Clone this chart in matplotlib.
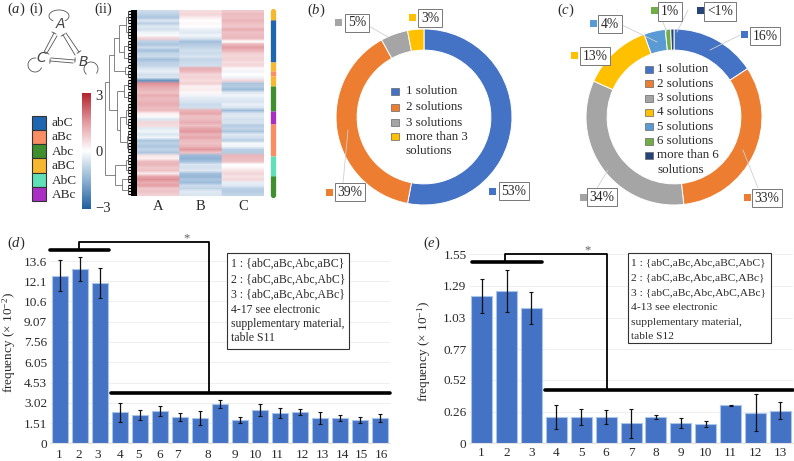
import numpy as np
import matplotlib
matplotlib.use('Agg')
import matplotlib.pyplot as plt
from matplotlib.colors import LinearSegmentedColormap
from matplotlib.patches import Arc, Rectangle

plt.rcParams['font.family'] = ['Liberation Serif', 'DejaVu Serif']
plt.rcParams['mathtext.fontset'] = 'custom'
plt.rcParams['mathtext.rm'] = 'Liberation Serif'
plt.rcParams['mathtext.it'] = 'Liberation Serif:italic'

W, H = 794, 461
TXT = '#2a2a2a'

# heatmap rows, read top to bottom
heat_a = [-0.7, -0.9, -1.1, -0.5, -0.9, -0.4, -0.6, -0.2, -0.1, 0.7,
          -0.9, -1.1, -0.7, -1.2, -0.8, -0.7, -1.2, -0.9, -0.8, -0.5,
          -0.3, -0.6, -0.5, -2.0, 1.6, 1.3, 1.1, 0.9, 1.2, 1.0,
          1.1, 1.2, 1.0, 1.0, 0.2, 0.1, -0.5, 0.6, 0.5, -0.4,
          -0.2, -0.5, -0.2, -1.1, -0.9, -1.1, -0.8, -1.1, 0.4, 0.2,
          1.0, 1.1, 0.8, 0.9, 0.3, 1.3, 1.6, 1.2, 1.4, 0.8,
          0.9, 0.7]
heat_b = [0.5, 0.6, 0.3, 0.0, 0.1, 0.0, -0.3, -0.4, -0.2, -0.5,
          -1.2, -1.0, -0.8, -0.6, -0.7, -0.5, -0.8, -0.7, -0.6, 1.2,
          1.0, 0.6, 0.7, 0.5, 0.7, 0.2, 0.3, 0.1, -0.2, -0.4,
          -0.5, -0.7, -0.6, 1.1, 1.3, 0.9, 1.0, 1.2, 0.9, 1.3,
          1.5, 1.1, 1.3, 1.0, 0.9, 1.1, 1.5, 0.9, -1.3, -1.5,
          -1.2, -0.5, -0.6, -0.4, -1.2, -1.4, -1.1, -1.3, -0.7, -0.8,
          -0.4, -0.5]
heat_c = [0.8, 1.0, 0.9, 1.1, 0.9, 0.8, 1.2, 0.9, 1.0, 1.0,
          0.0, 1.1, 1.4, 1.1, 0.7, 0.6, 0.7, 0.5, 0.6, 0.1,
          -0.2, 0.0, -0.2, 0.6, -1.1, -1.0, -1.3, -0.4, -0.2, -0.4,
          -0.5, -0.3, -0.5, -1.3, -0.5, -0.4, -0.6, -0.5, -1.0, -0.8,
          -1.1, -0.4, -0.6, -0.9, -0.1, -0.2, -0.9, -1.0, 1.1, 1.0,
          0.9, 0.0, 0.1, 0.4, 0.6, 0.4, 0.6, -0.3, -0.4, -0.9,
          -1.0, -0.8]
heat_labels = ['A', 'B', 'C']

# dendrogram: (merge height, upper, lower), an int is a tight cluster of rows
dendro_tree = (32,
               (28,
                (23, (18, (11, 5, 5), (13, 4, 4)), (12, 2, 3)),
                (20, (13, 4, 4), (17, (11, 5, 4), (10, 4, 4)))),
               (22, (11, 4, 3), (15, 3, 4)))

side_colors = ['#f5b82e', '#1f66b0', '#f5b82e', '#f98d63', '#f5b82e',
               '#3f8f2f', '#a92fc4', '#f98d63', '#5fe0b8', '#3f8f2f']
side_sizes = [37, 126, 27, 13, 30, 75, 40, 97, 60, 65]

type_names = ['abC', 'aBc', 'Abc', 'aBC', 'AbC', 'ABc']
type_colors = ['#1f66b0', '#f98d63', '#3f8f2f', '#f5b82e', '#5fe0b8', '#a92fc4']

# donuts
b_values = [53, 39, 5, 3]
b_colors = ['#4472c4', '#ed7d31', '#a5a5a5', '#ffc000']
b_names = ['1 solution', '2 solutions', '3 solutions', 'more than 3']
b_pct = ['53%', '39%', '5%', '3%']

c_values = [16, 33, 34, 13, 4, 1, 0.6]
c_colors = ['#4472c4', '#ed7d31', '#a5a5a5', '#ffc000', '#5b9bd5', '#70ad47', '#264478']
c_names = ['1 solution', '2 solutions', '3 solutions', '4 solutions', '5 solutions',
           '6 solutions', 'more than 6']
c_pct = ['16%', '33%', '34%', '13%', '4%', '1%', '<1%']

# bars of panel d
d_values = [12.5, 13.0, 11.94, 2.31, 2.1, 2.4, 1.96, 1.9, 2.9, 1.77, 2.5, 2.24, 2.34,
            1.9, 1.9, 1.74, 1.9]
d_err = [1.14, 0.91, 1.12, 0.7, 0.37, 0.37, 0.31, 0.53, 0.3, 0.22, 0.46, 0.37, 0.25,
         0.46, 0.24, 0.2, 0.31]
d_yticks = [0, 1.51, 3.02, 4.53, 6.05, 7.56, 9.07, 10.6, 12.1, 13.6]
d_xlabels = list(range(1, 17))
d_xlabel_pos = [0.97, 1.95, 2.88, 4.0, 4.92, 5.98, 6.88, 8.37, 9.72, 10.75, 11.87,
                13.13, 14.12, 15.1, 16.08, 17.05]
d_note = ['1 : {abC,aBc,Abc,aBC}', '2 : {abC,aBc,Abc,AbC}', '3 : {abC,aBc,Abc,ABc}',
          '4-17 see electronic', 'supplementary material,', 'table S11']

# bars of panel e
e_values = [1.206, 1.25, 1.105, 0.215, 0.215, 0.215, 0.164, 0.215, 0.164, 0.155, 0.311,
            0.25, 0.267]
e_err = [0.143, 0.173, 0.13, 0.10, 0.067, 0.055, 0.117, 0.014, 0.041, 0.025, 0.003,
         0.153, 0.068]
e_yticks = [0, 0.26, 0.52, 0.77, 1.03, 1.29, 1.55]
e_note = ['1 : {abC,aBc,Abc,aBC,AbC}', '2 : {abC,aBc,Abc,aBC,ABc}',
          '3 : {abC,aBc,Abc,AbC,ABc}', '4-13 see electronic',
          'supplementary material,', 'table S12']


def px_axes(fig, left, top, right, bottom, **kw):
    # axes placed by pixel edges, y counted from the top
    return fig.add_axes([left / W, 1 - bottom / H, (right - left) / W, (bottom - top) / H], **kw)


def draw_tree(ax, node, row):
    # returns (y centre, height, next free row)
    if isinstance(node, int):
        ys = np.arange(row, row + node) + 0.5
        ax.hlines(ys, 0, 9, color='black', lw=0.9)
        ax.vlines(9, ys[0], ys[-1], color='#333333', lw=0.6)
        return ys.mean(), 9, row + node
    h, up, low = node
    y0, h0, row = draw_tree(ax, up, row)
    y1, h1, row = draw_tree(ax, low, row)
    ax.hlines([y0, y1], [h0, h1], h, color='#555555', lw=0.5)
    ax.vlines(h, y0, y1, color='#555555', lw=0.5)
    return (y0 + y1) / 2, h, row


def donut(fig, cx, cy, r, values, colors):
    ax = px_axes(fig, cx - r, cy - r, cx + r, cy + r)
    ax.pie(values, colors=colors, startangle=90, counterclock=False, radius=1,
           wedgeprops=dict(width=0.24, edgecolor='white', linewidth=0.7))
    ax.set_xlim(-1, 1)
    ax.set_ylim(-1, 1)
    return ax


def bars(ax, values, err, yticks, ytop, pad):
    x = np.arange(1, len(values) + 1)
    ax.bar(x, values, width=0.84, color='#4472c4', edgecolor='#a9c6ea', linewidth=0.8, zorder=2)
    ax.errorbar(x, values, yerr=err, fmt='none', ecolor='#111111', elinewidth=0.9,
                capsize=1.6, capthick=0.8, zorder=3)
    ax.set_xlim(0.5, len(values) + 0.5)
    ax.set_ylim(0, ytop)
    ax.set_yticks(yticks)
    ax.set_yticklabels([f'{t:g}' for t in yticks], fontsize=9.5, color=TXT)
    ax.grid(axis='y', color='#ececec', lw=0.6, zorder=0)
    ax.tick_params(axis='y', length=0, pad=2)
    ax.tick_params(axis='x', length=0, pad=pad)
    for s in ['top', 'left', 'right']:
        ax.spines[s].set_visible(False)
    ax.spines['bottom'].set_color('#dddddd')
    ax.spines['bottom'].set_linewidth(0.6)


fig = plt.figure(figsize=(W / 100, H / 100), dpi=100)

# --- panel a ---
cmap = LinearSegmentedColormap.from_list('rdbu', ['#1f5f9e', '#8fb2d4', '#ffffff', '#e39aa0', '#b3232e'])

n_rows = len(heat_a)
ax_heat = px_axes(fig, 137, 10, 264, 196)
# columns repeated so the smoothing only blends along the rows
ax_heat.imshow(np.repeat(np.column_stack([heat_a, heat_b, heat_c]), 40, axis=1), aspect='auto',
               cmap=cmap, vmin=-3, vmax=3, interpolation='bilinear',
               extent=[-0.5, 2.5, n_rows - 0.5, -0.5])
ax_heat.set_xticks(range(3))
ax_heat.set_xticklabels(heat_labels, fontsize=10.5, color=TXT)
ax_heat.set_yticks([])
ax_heat.tick_params(length=0, pad=3)
for s in ax_heat.spines.values():
    s.set_visible(False)

ax_den = px_axes(fig, 103, 10, 137, 196)
draw_tree(ax_den, dendro_tree, 0)
ax_den.fill_betweenx([0, n_rows], 0, 6, color='black', lw=0)
ax_den.set_xlim(34, 0)
ax_den.set_ylim(n_rows, 0)
ax_den.axis('off')

ax_side = px_axes(fig, 268, 8, 277, 198)
starts = np.cumsum([0] + side_sizes[:-1])
ax_side.plot([0, 0], [starts[0] + 8, starts[0] + side_sizes[0]], color=side_colors[0],
             lw=3.8, solid_capstyle='round')
ax_side.plot([0, 0], [starts[-1], starts[-1] + side_sizes[-1] - 8], color=side_colors[-1],
             lw=3.8, solid_capstyle='round')
for st, sz, col in zip(starts[1:-1], side_sizes[1:-1], side_colors[1:-1]):
    ax_side.plot([0, 0], [st, st + sz], color=col, lw=3.8, solid_capstyle='butt')
ax_side.set_xlim(-1, 1)
ax_side.set_ylim(sum(side_sizes), 0)
ax_side.axis('off')

ax_cb = px_axes(fig, 82, 93, 91, 209)
ax_cb.imshow(np.linspace(3, -3, 256)[:, None], aspect='auto', cmap=cmap, vmin=-3, vmax=3,
             extent=[0, 1, -3.1, 3.1])
ax_cb.set_xticks([])
ax_cb.yaxis.tick_right()
ax_cb.set_yticks([-3, 0, 3])
ax_cb.set_yticklabels(['\u22123', '0', '3'], fontsize=10.5, color=TXT)
ax_cb.tick_params(length=0, pad=3)
for s in ax_cb.spines.values():
    s.set_visible(False)

# --- panels b, c ---
donut(fig, 424, 117, 88, b_values, b_colors)
donut(fig, 674, 117, 88, c_values, c_colors)

# --- panels d, e ---
ax_d = px_axes(fig, 50, 220, 390, 443.3)
bars(ax_d, d_values, d_err, d_yticks, 13.6 * 223.3 / 182.3, 4)
ax_d.set_xticks(d_xlabel_pos)
ax_d.set_xticklabels(d_xlabels, fontsize=9.5, color=TXT)
ax_d.set_ylabel('frequency (\u00d7 10$^{-2}$)', fontsize=9.5, color=TXT)
ax_d.yaxis.set_label_coords(-0.094, 0.45)

ax_e = px_axes(fig, 469.2, 225, 792.9, 443.3)
bars(ax_e, e_values, e_err, e_yticks, 1.55 * 218.3 / 189.3, 3)
ax_e.set_xticks(range(1, len(e_values) + 1))
ax_e.set_xticklabels(range(1, len(e_values) + 1), fontsize=9.5, color=TXT)
ax_e.set_ylabel('frequency (\u00d7 10$^{-1}$)', fontsize=9.5, color=TXT)
ax_e.yaxis.set_label_coords(-0.112, 0.42)

# --- overlay in image pixels: labels, brackets, boxes ---
ov = fig.add_axes([0, 0, 1, 1], zorder=10)
ov.set_xlim(0, W)
ov.set_ylim(H, 0)
ov.axis('off')
ov.patch.set_alpha(0)


def label(x, y, s, size=9, ha='left', **kw):
    ov.text(x, y, s, fontsize=size, color=TXT, ha=ha, va='center', **kw)


for x, y, s in [(7, 9, '$(\\mathit{a})$'), (307, 10, '$(\\mathit{b})$'), (557, 10, '$(\\mathit{c})$'),
                (7, 243, '$(\\mathit{d})$'), (423, 243, '$(\\mathit{e})$')]:
    label(x, y, s, size=10.5)
label(29, 9, '(i)', size=10.5)
label(94, 9, '(ii)', size=10.5)

# type legend
for i, (name, col) in enumerate(zip(type_names, type_colors)):
    ov.add_patch(Rectangle((32, 115.5 + i * 14.3), 14, 14.3, facecolor=col, edgecolor='#333333', lw=0.8))
    label(52, 123 + i * 14.4, name, size=9.5)

# network sketch
SK = '#555555'
for name, x, y in [('A', 60.5, 24), ('C', 41, 58), ('B', 83, 62)]:
    ov.text(x, y, name, fontsize=10, family='DejaVu Sans', style='oblique', color='#444444',
            ha='center', va='center', fontweight='light')
for (x0, y0, x1, y1, bar_end) in [(54, 33, 44, 52, 0), (57, 36, 47, 53, 1),
                                  (66, 33, 79, 52, 1), (63, 35, 75, 55, 0),
                                  (51, 58, 75, 60, 1), (50, 61, 73, 63, 0)]:
    ov.plot([x0, x1], [y0, y1], color=SK, lw=0.6)
    d = np.array([x1 - x0, y1 - y0], dtype=float)
    d = np.array([-d[1], d[0]]) / np.hypot(*d) * 2.2
    bx, by = (x1, y1) if bar_end else (x0, y0)
    ov.plot([bx - d[0], bx + d[0]], [by - d[1], by + d[1]], color=SK, lw=0.6)
ov.add_patch(Arc((59, 16), 20, 12, theta1=140, theta2=400, color=SK, lw=0.6))
ov.add_patch(Arc((35, 65), 14, 14, theta1=20, theta2=280, color=SK, lw=0.6))
ov.add_patch(Arc((91, 69), 14, 14, theta1=-230, theta2=40, color=SK, lw=0.6))

# donut legends
for i, (name, col) in enumerate(zip(b_names, b_colors)):
    y = [91.5, 107, 122.5, 136.5][i]
    ov.add_patch(Rectangle((391, y - 3.5), 8, 7, facecolor=col, edgecolor='#666666', lw=0.5))
    label(406, y, name, size=9.4)
label(406, 151, 'solutions', size=9.4)
for i, (name, col) in enumerate(zip(c_names, c_colors)):
    y = 69.5 + i * 14.3
    ov.add_patch(Rectangle((645, y - 3.5), 8, 7, facecolor=col, edgecolor='#666666', lw=0.5))
    label(657, y, name, size=9.4)
label(657, 170, 'solutions', size=9.4)

# boxed percentages: box centre, marker, leader line
b_boxes = [(514, 191, 492, 191), (350, 192, 329, 192), (357, 23, 338, 23), (430, 18, 412, 18)]
b_lead = [None, (343, 183, 348, 130), (367, 25, 388, 37), None]
c_boxes = [(765, 36, 744, 35), (767, 198, 747, 197), (602, 197, 583, 197), (595, 56, 574, 56),
           (610, 24, 593, 24), (670, 11.5, 654, 11), (720, 11.5, 700, 11)]
c_lead = [(740, 35, 710, 50), (758, 188, 743, 150), (597, 188, 608, 170), None, (620, 24, 657, 42),
          (662, 20, 667, 32), (688, 10, 677, 32)]
for boxes, leads, pct, cols in [(b_boxes, b_lead, b_pct, b_colors), (c_boxes, c_lead, c_pct, c_colors)]:
    for (bx, by, mx, my), lead, s, col in zip(boxes, leads, pct, cols):
        if lead:
            ov.plot([lead[0], lead[2]], [lead[1], lead[3]], color='#cfcfcf', lw=0.6)
        ov.add_patch(Rectangle((mx - 3.5, my - 3.5), 7, 7, facecolor=col, edgecolor='none'))
        ov.text(bx, by, s, fontsize=9.8, color=TXT, ha='center', va='center',
                bbox=dict(boxstyle='square,pad=0.2', fc='white', ec='#777777', lw=0.7))

# significance brackets
ov.plot([50, 109], [250, 250], color='black', lw=2.6, solid_capstyle='round')
ov.plot([79, 79, 209, 209], [250, 241.5, 241.5, 392], color='black', lw=1.3)
ov.plot([111, 390], [392.5, 392.5], color='black', lw=2.6, solid_capstyle='round')
label(187, 238, '*', size=9, ha='center', alpha=0.75)

ov.plot([472, 541.5], [262.3, 262.3], color='black', lw=2.6, solid_capstyle='round')
ov.plot([505, 505, 606.5, 606.5], [262, 253.5, 253.5, 389.7], color='black', lw=1.3)
ov.plot([544.5, 793], [389.7, 389.7], color='black', lw=2.6, solid_capstyle='round')
label(588, 250, '*', size=9, ha='center', alpha=0.75)

# note boxes
ov.add_patch(Rectangle((227, 252.7), 121.5, 96.7, facecolor='white', edgecolor='#333333', lw=0.8))
for i, s in enumerate(d_note):
    label(231, [264, 279.7, 294.7, 310.3, 324.3, 338.3][i], s, size=8.5)
ov.add_patch(Rectangle((627.7, 253), 143, 89.7, facecolor='white', edgecolor='#333333', lw=0.8))
for i, s in enumerate(e_note):
    label(630.7, [262.7, 277.3, 292.3, 307.7, 322.3, 336.7][i], s, size=8.25)

fig.savefig('out.png', dpi=100)
